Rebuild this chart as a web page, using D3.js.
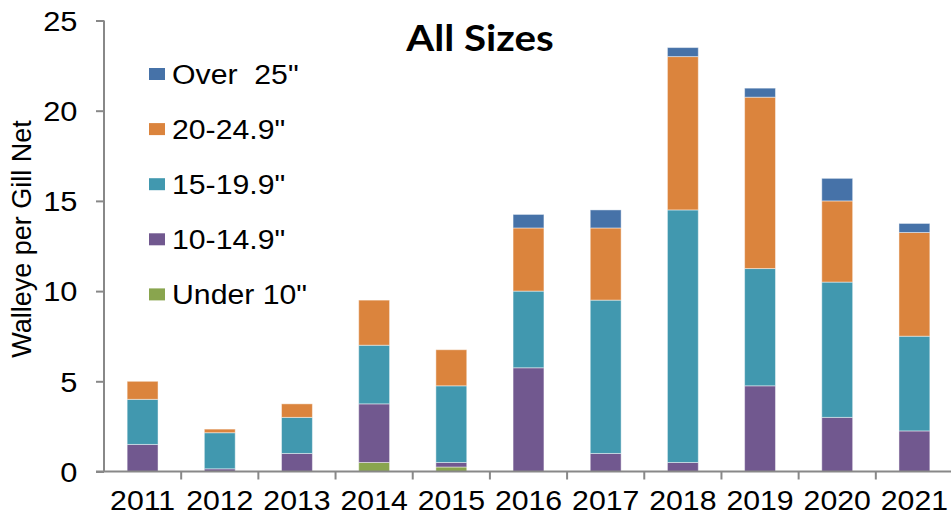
<!DOCTYPE html>
<html><head><meta charset="utf-8">
<script src="https://cdn.jsdelivr.net/npm/d3@7"></script>
<style>body{margin:0;background:#fff;}svg{display:block;}</style>
</head><body>
<svg id="chart" width="951" height="519"></svg>
<script>
const years = ["2011","2012","2013","2014","2015","2016","2017","2018","2019","2020","2021"];
const under10   = [0,   0,    0,   0.5,  0.25, 0,    0,   0,    0,    0,    0];
const s10_14    = [1.5, 0.15, 1.0, 3.25, 0.25, 5.75, 1.0, 0.5,  4.75, 3.0,  2.25];
const s15_19    = [2.5, 2.0,  2.0, 3.25, 4.25, 4.25, 8.5, 14.0, 6.5,  7.5,  5.25];
const s20_24    = [1.0, 0.2,  0.75,2.5,  2.0,  3.5,  4.0, 8.5,  9.5,  4.5,  5.75];
const over25    = [0,   0,    0,   0,    0,    0.75, 1.0, 0.5,  0.5,  1.25, 0.5];
const seriesNames = ["Under 10\"","10-14.9\"","15-19.9\"","20-24.9\"","Over  25\""];
const seriesColors = ["#89A54E","#71588F","#4198AF","#DB843D","#4672A8"];
const yTicks = [0,5,10,15,20,25];

const seriesVals = [under10, s10_14, s15_19, s20_24, over25];
const keys = ["k0","k1","k2","k3","k4"];
const table = years.map((y,i)=>{const o={year:y}; keys.forEach((k,j)=>o[k]=seriesVals[j][i]); return o;});
const stacked = d3.stack().keys(keys)(table);

const svg = d3.select("#chart");
const x = d3.scaleBand().domain(years).range([104, 953]).paddingInner(0.6).paddingOuter(0.3);
const y = d3.scaleLinear().domain([0,25]).range([471.5, 20.5]);
const step = x.step();
const axisColor = "#888";
const FONT = "Liberation Sans, Arial, sans-serif";

// bars
svg.append("g").selectAll("g").data(stacked).join("g")
  .attr("fill",(d,i)=>seriesColors[i])
  .selectAll("rect").data(d=>d).join("rect")
  .attr("x",d=>x(d.data.year))
  .attr("width",x.bandwidth())
  .attr("y",d=>y(d[1]))
  .attr("height",d=>Math.max(0,y(d[0])-y(d[1])))
  .attr("stroke","rgba(255,255,255,0.45)")
  .attr("stroke-width",1);

// y axis
const yAxis = svg.append("g").attr("transform","translate(104,0)")
  .call(d3.axisLeft(y).tickValues(yTicks).tickSize(8).tickPadding(19).tickFormat(d3.format("d")));
yAxis.select(".domain").attr("stroke",axisColor).attr("stroke-width",2).attr("d","M0,"+y(0)+"V"+y(25));
yAxis.selectAll(".tick line").attr("stroke",axisColor).attr("stroke-width",2);
yAxis.selectAll("text").attr("font-family",FONT).attr("font-size",28).attr("fill","#000").attr("dy","0.35em")
  .attr("x",0).attr("transform","translate(-26.5,0) scale(1.1,1)");

// x axis line
svg.append("line").attr("x1",96).attr("x2",951).attr("y1",y(0)).attr("y2",y(0))
  .attr("stroke",axisColor).attr("stroke-width",2);
// x ticks at band boundaries
const bounds = years.map(d=>x(d)-step*0.3).concat([x(years[years.length-1])-step*0.3+step]);
svg.append("g").selectAll("line").data(bounds.slice(1)).join("line")
  .attr("x1",d=>d).attr("x2",d=>d).attr("y1",y(0)).attr("y2",y(0)+8)
  .attr("stroke",axisColor).attr("stroke-width",2);
svg.append("g").selectAll("text").data(years).join("text")
  .attr("transform",d=>"translate("+(x(d)+x.bandwidth()/2)+",510) scale(1.08,1)")
  .attr("text-anchor","middle")
  .attr("font-family",FONT).attr("font-size",28)
  .text(d=>d);

// y label
svg.append("text").attr("transform","translate(31,239) rotate(-90)")
  .attr("text-anchor","middle")
  .attr("font-family",FONT).attr("font-size",27)
  .text("Walleye per Gill Net");

// title
svg.append("text").attr("transform","translate(480,51) scale(1.12,1)").attr("text-anchor","middle")
  .attr("font-family","Lato, Open Sans, sans-serif").attr("font-weight","bold").attr("font-size",36)
  .text("All Sizes");

// legend (top to bottom: Over 25 first)
const legendOrder = [4,3,2,1,0];
const lg = svg.append("g").selectAll("g").data(legendOrder).join("g")
  .attr("transform",(d,i)=>"translate(149,"+(74+i*55.1)+")");
lg.append("rect").attr("x",0).attr("y",-6).attr("width",16).attr("height",12).attr("fill",d=>seriesColors[d]);
lg.append("text").attr("transform","translate(23,9.5) scale(1.12,1)")
  .attr("font-family",FONT).attr("font-size",27)
  .style("white-space","pre").attr("xml:space","preserve")
  .text(d=>seriesNames[d]);
</script>
</body></html>
